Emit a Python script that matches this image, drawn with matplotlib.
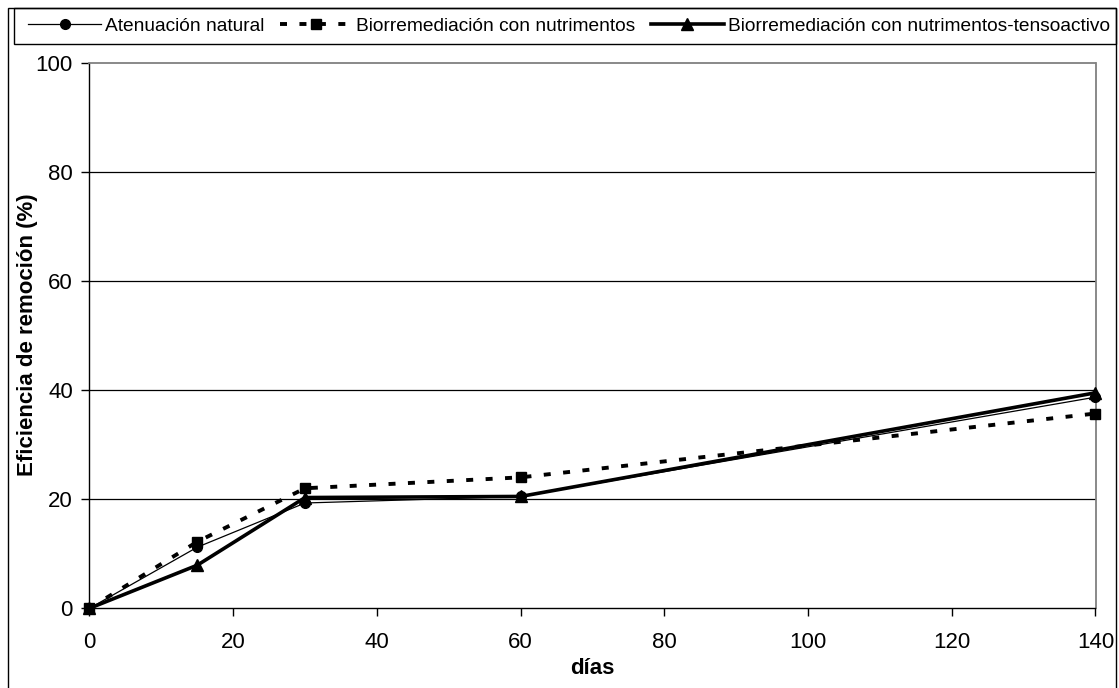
import matplotlib
matplotlib.use("Agg")
import matplotlib.pyplot as plt
from matplotlib.patches import Rectangle

plt.rcParams['font.family'] = ['Liberation Sans', 'DejaVu Sans']

dias = [0, 15, 30, 60, 140]
atenuacion = [0, 11.2, 19.3, 20.5, 38.7]
bio_nutrientes = [0, 12.2, 22.0, 24.0, 35.7]
bio_tensoactivo = [0, 7.9, 20.3, 20.5, 39.5]
labels = ["Atenuación natural", "Biorremediación con nutrimentos",
          "Biorremediación con nutrimentos-tensoactivo"]
xticks = [0, 20, 40, 60, 80, 100, 120, 140]
yticks = [0, 20, 40, 60, 80, 100]

W, H = 1119, 688
fig = plt.figure(figsize=(W / 100, H / 100), dpi=100)
ax = fig.add_axes([89.5 / W, 1 - 608.3 / H, (1095.5 - 89.5) / W, (608.3 - 62.7) / H])

l1, = ax.plot(dias, atenuacion, color='black', lw=0.9, marker='o', ms=7, clip_on=False, zorder=3)
l2, = ax.plot(dias, bio_nutrientes, color='black', lw=2.8, ls=(0, (1.8, 3.2)),
              marker='s', ms=7.5, clip_on=False, zorder=3)
l3, = ax.plot(dias, bio_tensoactivo, color='black', lw=2.6, marker='^', ms=8, clip_on=False, zorder=3)

ax.set_xlim(0, 140)
ax.set_ylim(0, 100)
ax.set_xticks(xticks)
ax.set_yticks(yticks)
ax.tick_params(axis='both', direction='out', length=6, width=1, labelsize=16)
ax.tick_params(axis='x', pad=11)
ax.tick_params(axis='y', pad=6)
for y in yticks[1:-1]:
    ax.axhline(y, color='black', lw=0.9, zorder=0)
ax.spines['top'].set_color('#808080')
ax.spines['right'].set_color('#808080')
ax.spines['top'].set_linewidth(1.3)
ax.spines['right'].set_linewidth(1.3)
ax.spines['left'].set_linewidth(1.0)
ax.spines['bottom'].set_linewidth(1.0)

fig.text(592 / W, 1 - 668 / H, "días", fontsize=16, fontweight='bold',
         ha='center', va='center')
fig.text(28 / W, 1 - 335 / H, "Eficiencia de remoción (%)", fontsize=16,
         fontweight='bold', ha='center', va='center', rotation=90)

# outer border
fig.patches.append(Rectangle((8 / W, -0.01), (1116 - 8) / W, 1 - 8 / H + 0.01,
                             transform=fig.transFigure, fill=False, ec='black', lw=1.0))
# legend box
fig.patches.append(Rectangle((14 / W, 1 - 44 / H), (1116 - 14) / W, 36 / H,
                             transform=fig.transFigure, fill=False, ec='black', lw=1.0))
leg = fig.legend([l1, l2, l3], labels, ncol=3, loc='center',
                 bbox_to_anchor=(569 / W, 1 - 26 / H), frameon=False,
                 fontsize=13.8, handlelength=3.8, handletextpad=0.2, columnspacing=0.8,
                 borderpad=0, markerscale=1.0)

fig.savefig("out.png", dpi=100)
